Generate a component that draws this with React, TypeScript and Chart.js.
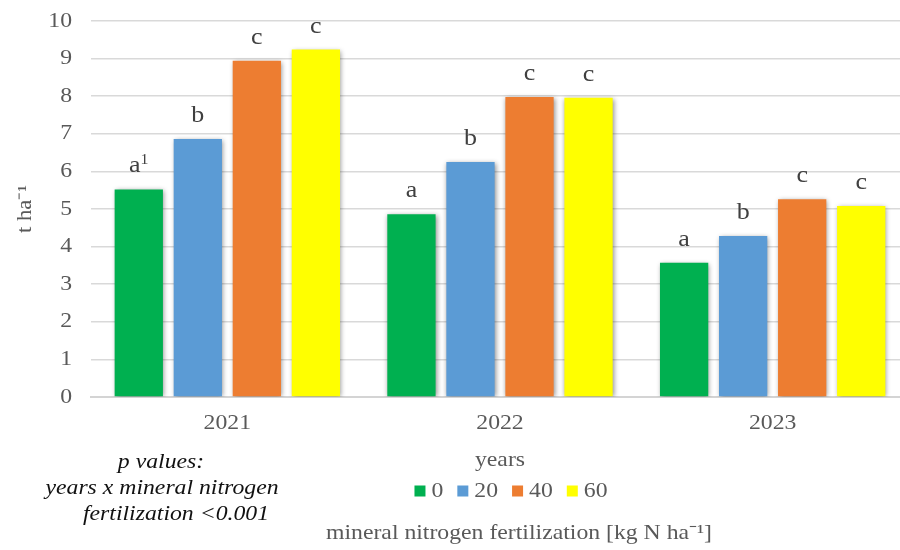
import React, { useEffect, useRef } from "react";
import { Chart, registerables } from "chart.js";

Chart.register(...registerables);

const categories = ["2021", "2022", "2023"];
const seriesLabels = ["0", "20", "40", "60"];
const seriesColors = ["#00B050", "#5B9BD5", "#ED7D31", "#FFFF00"];
const n0 = [5.52, 4.86, 3.57];
const n20 = [6.86, 6.25, 4.28];
const n40 = [8.94, 7.98, 5.26];
const n60 = [9.24, 7.96, 5.08];
const letters0 = ["a", "a", "a"];
const letters20 = ["b", "b", "b"];
const letters40 = ["c", "c", "c"];
const letters60 = ["c", "c", "c"];
const footnoteMark = "1";
const yTickValues = [0, 1, 2, 3, 4, 5, 6, 7, 8, 9, 10];
const yTitle = "t ha\u207B\u00B9";
const xTitle = "years";
const legendTitle = "mineral nitrogen fertilization [kg N ha\u207B\u00B9]";
const pValueLines = ["p values:", "years x mineral nitrogen", "fertilization <0.001"];

const SERIF = "'Liberation Serif', 'Times New Roman', serif";
const GREY = "#595959";
const SX = 1.13; // horizontal text stretch of the reference

const seriesValues = [n0, n20, n40, n60];
const seriesLetters = [letters0, letters20, letters40, letters60];

const decorPlugin = {
  id: "decor",
  beforeDatasetsDraw(chart: any) {
    const ctx = chart.ctx;
    ctx.save();
    ctx.shadowColor = "rgba(0,0,0,0.45)";
    ctx.shadowBlur = 5;
    ctx.shadowOffsetX = 1;
    ctx.shadowOffsetY = 1;
  },
  afterDatasetsDraw(chart: any) {
    const ctx = chart.ctx;
    ctx.restore();
    ctx.save();
    ctx.fillStyle = "#404040";
    const big = `23px ${SERIF}`;
    const small = `14px ${SERIF}`;
    chart.data.datasets.forEach((ds: any, di: number) => {
      const meta = chart.getDatasetMeta(di);
      meta.data.forEach((el: any, i: number) => {
        const letter = seriesLetters[di][i];
        const baseY = el.y - 17;
        ctx.textBaseline = "alphabetic";
        if (di === 0 && i === 0) {
          ctx.font = big;
          const w = ctx.measureText(letter).width * SX;
          ctx.font = small;
          const w1 = ctx.measureText(footnoteMark).width * SX;
          const start = el.x - (w + w1) / 2;
          ctx.textAlign = "left";
          ctx.font = big;
          ctx.fillText(letter, start, baseY);
          ctx.font = small;
          ctx.fillText(footnoteMark, start + w, baseY - 8);
        } else {
          ctx.font = big;
          ctx.textAlign = "center";
          ctx.fillText(letter, el.x, baseY);
        }
      });
    });
    ctx.restore();
  },
  afterDraw(chart: any) {
    const ctx = chart.ctx;
    ctx.save();
    // p values block
    ctx.fillStyle = "#111111";
    ctx.font = `italic 21px ${SERIF}`;
    ctx.textAlign = "center";
    ctx.textBaseline = "middle";
    const pCenters = [161, 162, 176];
    const pYs = [462, 488, 514];
    pValueLines.forEach((t, i) => ctx.fillText(t, pCenters[i], pYs[i]));

    // legend
    ctx.font = `21px ${SERIF}`;
    ctx.fillStyle = GREY;
    const sq = 11;
    const gapSqText = 6;
    const gapItem = 14;
    let total = 0;
    const widths = seriesLabels.map((l) => ctx.measureText(l).width * SX);
    widths.forEach((w, i) => {
      total += sq + gapSqText + w + (i < widths.length - 1 ? gapItem : 0);
    });
    let x = 511 - total / 2;
    const ly = 491;
    seriesLabels.forEach((l, i) => {
      ctx.fillStyle = seriesColors[i];
      ctx.fillRect(x, ly - sq / 2, sq, sq);
      x += sq + gapSqText;
      ctx.fillStyle = GREY;
      ctx.textAlign = "left";
      ctx.fillText(l, x, ly);
      x += widths[i] + gapItem;
    });

    // bottom title
    ctx.textAlign = "center";
    ctx.fillStyle = GREY;
    ctx.font = `21px ${SERIF}`;
    ctx.fillText(legendTitle, 519, 533);
    ctx.restore();
  },
};

function stretchText(ctx: any) {
  const orig = ctx.fillText.bind(ctx);
  ctx.fillText = (text: string, x: number, y: number, maxWidth?: number) => {
    ctx.save();
    ctx.translate(x, y);
    ctx.scale(SX, 1);
    if (maxWidth === undefined) orig(text, 0, 0);
    else orig(text, 0, 0, maxWidth / SX);
    ctx.restore();
  };
}

export default function App() {
  const ref = useRef<HTMLCanvasElement>(null);
  useEffect(() => {
    document.body.style.margin = "0";
    const canvas = ref.current!;
    stretchText(canvas.getContext("2d"));
    const chart = new Chart(canvas, {
      type: "bar",
      data: {
        labels: categories,
        datasets: seriesValues.map((vals, i) => ({
          label: seriesLabels[i],
          data: vals,
          backgroundColor: seriesColors[i],
          borderWidth: 0,
          categoryPercentage: 0.866,
          barPercentage: 0.818,
        })),
      },
      options: {
        responsive: false,
        maintainAspectRatio: false,
        animation: false,
        devicePixelRatio: 1,
        layout: { padding: { top: 21, bottom: 77, left: 0, right: 0 } },
        plugins: {
          legend: { display: false },
          tooltip: { enabled: false },
          title: { display: false },
        },
        scales: {
          x: {
            afterFit: (s: any) => {
              s.height = 76;
            },
            grid: { display: false, drawTicks: false },
            border: { display: true, color: "#d4d4d4", width: 2 },
            ticks: {
              color: GREY,
              font: { family: SERIF, size: 21 },
              padding: 14,
            },
            title: {
              display: true,
              text: xTitle,
              color: GREY,
              font: { family: SERIF, size: 21 },
              padding: { top: 0, bottom: 0 },
            },
          },
          y: {
            min: 0,
            max: 10,
            afterFit: (s: any) => {
              s.width = 91;
              s.paddingTop = 12;
              s.paddingBottom = 12;
            },
            afterBuildTicks: (s: any) => {
              s.ticks = yTickValues.map((v) => ({ value: v }));
            },
            grid: { color: "#d9d9d9", lineWidth: 1.5, drawTicks: false },
            border: { display: false },
            ticks: {
              color: GREY,
              font: { family: SERIF, size: 21 },
              padding: 19,
            },
            title: {
              display: true,
              text: yTitle,
              color: GREY,
              font: { family: SERIF, size: 20 },
              padding: { top: 14, bottom: 0 },
            },
          },
        },
      },
      plugins: [decorPlugin],
    });
    return () => chart.destroy();
  }, []);
  return (
    <div
      style={{
        position: "absolute",
        left: 0,
        top: 0,
        width: 900,
        height: 550,
        overflow: "hidden",
        background: "#ffffff",
      }}
    >
      <canvas ref={ref} width={909} height={550} style={{ width: 909, height: 550, display: "block" }} />
    </div>
  );
}
